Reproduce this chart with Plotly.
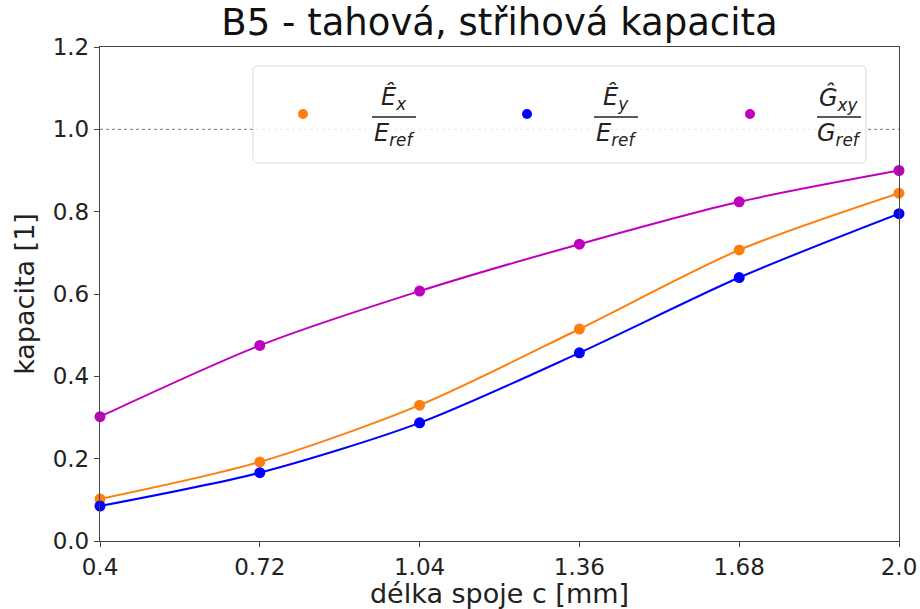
import plotly.graph_objects as go

# ---- data ----
x_vals = [0.4, 0.72, 1.04, 1.36, 1.68, 2.0]
ex_vals = [0.102, 0.192, 0.330, 0.515, 0.707, 0.845]
ey_vals = [0.085, 0.166, 0.287, 0.457, 0.640, 0.795]
gxy_vals = [0.302, 0.475, 0.607, 0.721, 0.824, 0.900]
x_ticks = [0.4, 0.72, 1.04, 1.36, 1.68, 2.0]
x_ticktext = ["0.4", "0.72", "1.04", "1.36", "1.68", "2.0"]
y_ticks = [0.0, 0.2, 0.4, 0.6, 0.8, 1.0, 1.2]
y_ticktext = ["0.0", "0.2", "0.4", "0.6", "0.8", "1.0", "1.2"]

series = [
    ("Ex", ex_vals, "#ff7f0e", "<i>Ê<sub>x</sub></i>", "<i>E<sub>ref</sub></i>"),
    ("Ey", ey_vals, "#0000ff", "<i>Ê<sub>y</sub></i>", "<i>E<sub>ref</sub></i>"),
    ("Gxy", gxy_vals, "#bf00bf", "<i>Ĝ<sub>xy</sub></i>", "<i>G<sub>ref</sub></i>"),
]

FONT = "DejaVu Sans"
W, H = 920, 609
L, R, T, B = 100, 21, 47, 68
PW, PH = W - L - R, H - T - B


def px_x(p):
    return (p - L) / PW


def px_y(p):
    return (H - B - p) / PH


fig = go.Figure()

for name, vals, col, num, den in series:
    fig.add_trace(go.Scatter(
        x=x_vals, y=vals, mode="lines", line=dict(color=col, width=2, shape="spline", smoothing=0.8),
        showlegend=False, hoverinfo="skip", cliponaxis=False))
for name, vals, col, num, den in series:
    fig.add_trace(go.Scatter(
        x=x_vals, y=vals, mode="markers", marker=dict(color=col, size=11),
        name=name, showlegend=False, cliponaxis=False))

shapes = []
annotations = []

# reference line at 1.0
shapes.append(dict(type="line", xref="paper", yref="y", x0=0, x1=1, y0=1.0, y1=1.0,
                   line=dict(color="#555555", width=0.8, dash="dot"), layer="below"))

# legend box (rounded)
bx0, bx1, by0, by1, r = 253, 866, 66, 163, 5
path = (f"M {px_x(bx0 + r)} {px_y(by0)} L {px_x(bx1 - r)} {px_y(by0)} "
        f"Q {px_x(bx1)} {px_y(by0)} {px_x(bx1)} {px_y(by0 + r)} "
        f"L {px_x(bx1)} {px_y(by1 - r)} Q {px_x(bx1)} {px_y(by1)} {px_x(bx1 - r)} {px_y(by1)} "
        f"L {px_x(bx0 + r)} {px_y(by1)} Q {px_x(bx0)} {px_y(by1)} {px_x(bx0)} {px_y(by1 - r)} "
        f"L {px_x(bx0)} {px_y(by0 + r)} Q {px_x(bx0)} {px_y(by0)} {px_x(bx0 + r)} {px_y(by0)} Z")
shapes.append(dict(type="path", xref="paper", yref="paper", path=path,
                   fillcolor="rgba(255,255,255,0.85)", line=dict(color="#d9d9d9", width=1), layer="above"))

dots = [303, 527, 750]
centers = [394, 616, 839]
for (name, vals, col, num, den), dx, cx in zip(series, dots, centers):
    shapes.append(dict(type="circle", xref="paper", yref="paper",
                       x0=px_x(dx - 5), x1=px_x(dx + 5), y0=px_y(114 - 5), y1=px_y(114 + 5),
                       fillcolor=col, line=dict(color=col, width=0), layer="above"))
    annotations.append(dict(xref="paper", yref="paper", x=px_x(cx), y=px_y(98), text=num,
                            showarrow=False, font=dict(family=FONT, size=24, color="#222"),
                            xanchor="center", yanchor="middle"))
    annotations.append(dict(xref="paper", yref="paper", x=px_x(cx), y=px_y(134), text=den,
                            showarrow=False, font=dict(family=FONT, size=24, color="#222"),
                            xanchor="center", yanchor="middle"))
    shapes.append(dict(type="line", xref="paper", yref="paper", x0=px_x(cx - 22), x1=px_x(cx + 22),
                       y0=px_y(117), y1=px_y(117), line=dict(color="#222", width=1.3), layer="above"))

fig.update_layout(
    width=W, height=H,
    margin=dict(l=L, r=R, t=T, b=B, autoexpand=False),
    paper_bgcolor="white", plot_bgcolor="white",
    font=dict(family=FONT, color="#222"),
    showlegend=False,
    title=dict(text="B5 - tahová, střihová kapacita", x=(L + PW / 2) / W,
               xanchor="center", y=1 - 22 / H, yanchor="middle", font=dict(family=FONT, size=37, color="#111")),
    xaxis=dict(range=[0.4, 2.0], tickvals=x_ticks, ticktext=x_ticktext, ticks="outside", ticklen=5,
               tickcolor="#444", tickfont=dict(size=23, family=FONT, color="#222"), automargin=False,
               showline=True, linecolor="#444", linewidth=1.3, mirror=True, showgrid=False, zeroline=False,
               title=dict(text="délka spoje c [mm]", font=dict(size=27, family=FONT, color="#222"), standoff=2)),
    yaxis=dict(range=[0, 1.2], tickvals=y_ticks, ticktext=y_ticktext, ticks="outside", ticklen=5,
               tickcolor="#444", tickfont=dict(size=23, family=FONT, color="#222"), automargin=False,
               showline=True, linecolor="#444", linewidth=1.3, mirror=True, showgrid=False, zeroline=False,
               title=dict(text="kapacita [1]", font=dict(size=27, family=FONT, color="#222"), standoff=10)),
    shapes=shapes,
    annotations=annotations,
)

fig.write_html("out.html", config={"displayModeBar": False},
               post_script="document.body.style.margin='0';document.body.style.overflow='hidden';")
